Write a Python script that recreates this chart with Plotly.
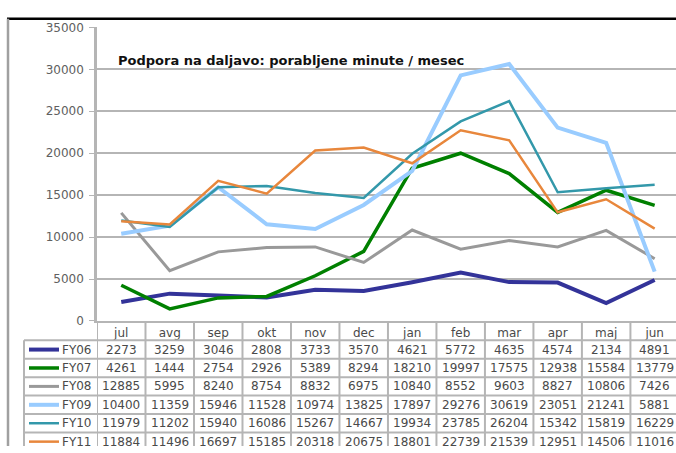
import plotly.graph_objects as go

# Monthly remote-support minutes per fiscal year
months = ["jul", "avg", "sep", "okt", "nov", "dec", "jan", "feb", "mar", "apr", "maj", "jun"]
series_names = ["FY06", "FY07", "FY08", "FY09", "FY10", "FY11"]
fy06 = [2273, 3259, 3046, 2808, 3733, 3570, 4621, 5772, 4635, 4574, 2134, 4891]
fy07 = [4261, 1444, 2754, 2926, 5389, 8294, 18210, 19997, 17575, 12938, 15584, 13779]
fy08 = [12885, 5995, 8240, 8754, 8832, 6975, 10840, 8552, 9603, 8827, 10806, 7426]
fy09 = [10400, 11359, 15946, 11528, 10974, 13825, 17897, 29276, 30619, 23051, 21241, 5881]
fy10 = [11979, 11202, 15940, 16086, 15267, 14667, 19934, 23785, 26204, 15342, 15819, 16229]
fy11 = [11884, 11496, 16697, 15185, 20318, 20675, 18801, 22739, 21539, 12951, 14506, 11016]
series_values = [fy06, fy07, fy08, fy09, fy10, fy11]
y_ticks = [0, 5000, 10000, 15000, 20000, 25000, 30000, 35000]
title_text = "Podpora na daljavo: porabljene minute / mesec"

colors = ["#333399", "#008000", "#999999", "#99ccff", "#3398aa", "#e8873c"]
widths = [4, 3.5, 3, 4, 2.5, 2.5]

W, H = 676, 453
plot_left, plot_top, plot_bottom = 97, 21, 324
table_left = 24
row_lines = [344, 363, 382, 401, 420, 439]
row_h = 19
grid = "#b5b5b5"
font = "DejaVu Sans"


def py(px):
    """pixel row -> paper y"""
    return 1 - px / H


def px_x(px):
    return px / W


fig = go.Figure()
for name, vals, c, w in zip(series_names, series_values, colors, widths):
    fig.add_trace(go.Scatter(x=months, y=vals, mode="lines", name=name,
                             line=dict(color=c, width=w), showlegend=False))

shapes = []
# outer frame: black top edge and grey left edge
shapes.append(dict(type="line", xref="paper", yref="paper", x0=px_x(7), x1=1,
                   y0=py(12), y1=py(12), line=dict(color="#000000", width=2.5)))
shapes.append(dict(type="line", xref="paper", yref="paper", x0=px_x(8), x1=px_x(8),
                   y0=py(12), y1=0, line=dict(color="#a0a0a0", width=2.5)))

# data table: horizontal rules
for r in row_lines:
    shapes.append(dict(type="line", xref="paper", yref="paper", x0=px_x(table_left), x1=1,
                       y0=py(r), y1=py(r), line=dict(color=grid, width=2)))
shapes.append(dict(type="line", xref="paper", yref="paper", x0=px_x(table_left), x1=px_x(table_left),
                   y0=py(row_lines[0]), y1=0, line=dict(color=grid, width=2)))
# data table: column rules on category boundaries
for k in range(len(months)):
    shapes.append(dict(type="line", xref="x", yref="paper", x0=k - 0.5, x1=k - 0.5,
                       y0=py(plot_bottom), y1=0, line=dict(color=grid, width=2)))

annotations = []
for i, (name, vals, c, w) in enumerate(zip(series_names, series_values, colors, widths)):
    yc = row_lines[0] + row_h * i + row_h / 2
    # legend key
    shapes.append(dict(type="line", xref="paper", yref="paper", x0=px_x(29), x1=px_x(59),
                       y0=py(yc), y1=py(yc), line=dict(color=c, width=w)))
    annotations.append(dict(xref="paper", yref="paper", x=px_x(60), y=py(yc), text=name,
                            showarrow=False, xanchor="left", yanchor="middle",
                            font=dict(family=font, size=12, color="#4a4a4a")))
    for m, v in zip(months, vals):
        annotations.append(dict(xref="x", yref="paper", x=m, y=py(yc), text=str(v),
                                showarrow=False, xanchor="center", yanchor="middle",
                                font=dict(family=font, size=12, color="#4a4a4a")))

annotations.append(dict(xref="paper", yref="paper", x=px_x(116), y=py(55), text="<b>" + title_text + "</b>",
                        showarrow=False, xanchor="left", yanchor="middle",
                        font=dict(family=font, size=13, color="#111111")))

fig.update_layout(
    width=W, height=H,
    margin=dict(l=0, r=0, t=0, b=0),
    paper_bgcolor="white", plot_bgcolor="white",
    shapes=shapes, annotations=annotations,
    xaxis=dict(domain=[px_x(plot_left), 1], range=[-0.5, 11.44], showgrid=False,
               showline=True, linecolor=grid, linewidth=2, ticks="",
               tickfont=dict(family=font, size=12, color="#4a4a4a"), fixedrange=True),
    yaxis=dict(domain=[py(plot_bottom), py(plot_top)], range=[0, 35000],
               tickvals=y_ticks, ticktext=[str(t) for t in y_ticks],
               showgrid=True, gridcolor=grid, gridwidth=2, zeroline=False,
               showline=True, linecolor=grid, linewidth=2.5,
               ticks="outside", ticklen=5, tickcolor=grid, ticklabelstandoff=3,
               tickfont=dict(family=font, size=12, color="#606060"), fixedrange=True),
)

fig.write_html("out.html")
